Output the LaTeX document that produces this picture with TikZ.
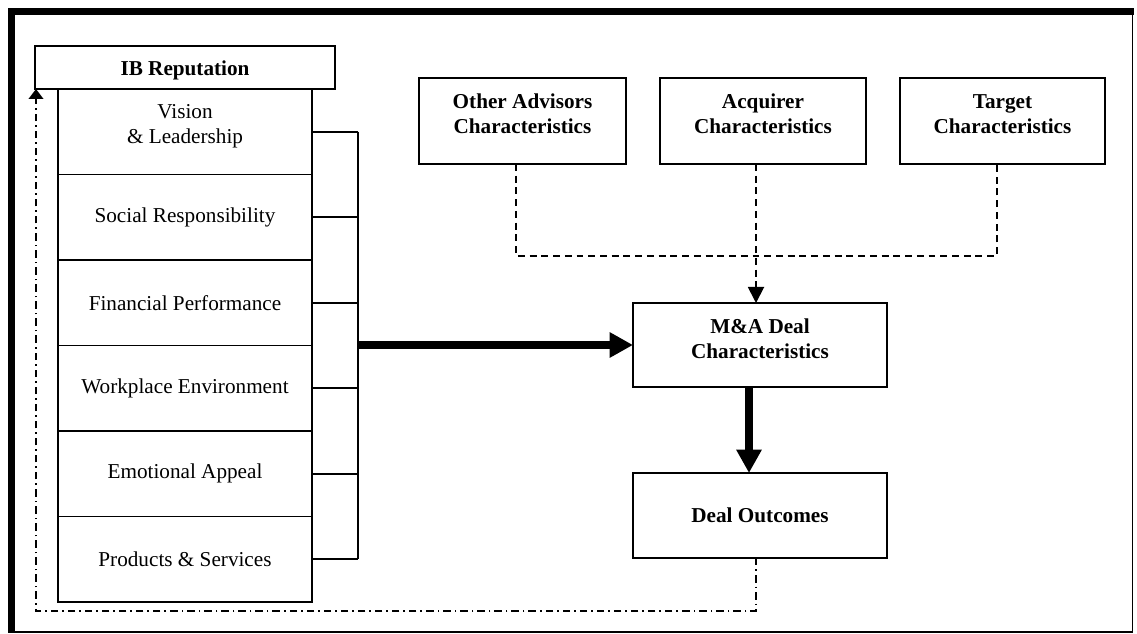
\documentclass[tikz,border=0pt]{standalone}
\usepackage{fontspec}
\setmainfont{Liberation Serif}
\usetikzlibrary{arrows.meta}

% move a (possibly multi-line) label up or down without changing its box
\newcommand\liftlabel[2]{\raisebox{#1}[\height][\depth]{\begin{tabular}{@{}c@{}}#2\end{tabular}}}

\tikzset{
  % boxes are given by centre, width and height in pixel units
  box/.style 2 args={draw, line width=1.4pt, rectangle, inner sep=0pt, outer sep=0pt,
    align=center, minimum width=#1*0.75pt, minimum height=#2*0.75pt,
    font=\fontsize{15.9}{18.75}\selectfont},
  boldbox/.style 2 args={box={#1}{#2}, font=\fontsize{15.9}{18.75}\selectfont\bfseries},
  thin/.style={line width=1.3pt},
  bigarrow/.style={line width=6.2pt, -{Triangle[length=17.5pt,width=18pt]}},
  dashline/.style={line width=1.4pt, dash pattern=on 5.2pt off 3.6pt},
  dashdot/.style={line width=1.4pt, dash pattern=on 5.6pt off 3pt on 1.2pt off 3pt}
}

\begin{document}
\begin{tikzpicture}[x=0.75pt, y=-0.75pt]
  \useasboundingbox (0,0) rectangle (1137,634);
  \fill[white] (0,0) rectangle (1137,634);

  % page frame: heavy top and left rules, light right and bottom rules
  \fill[black] (8,8) rectangle (1134,15);
  \fill[black] (8,8) rectangle (15,633);
  \fill[black] (1131.5,8) rectangle (1133,633);
  \fill[black] (8,630.5) rectangle (1133,633);

  % reputation header and its six dimensions
  \node[boldbox={300}{43}] (ib) at (185,67.5) {\liftlabel{-2.2pt}{IB Reputation}};
  \node[box={254}{85.5}] (s1) at (185,131.75) {\liftlabel{4pt}{Vision\\\& Leadership}};
  \node[box={254}{85.5}] (s2) at (185,217.25) {Social Responsibility};
  \node[box={254}{85.5}] (s3) at (185,302.75) {Financial Performance};
  \node[box={254}{85.5}] (s4) at (185,388.25) {Workplace Environment};
  \node[box={254}{85.5}] (s5) at (185,473.75) {Emotional Appeal};
  \node[box={254}{85.5}] (s6) at (185,559.25) {Products \& Services};

  % characteristics boxes
  \node[boldbox={207}{86}] (oth) at (522.5,121) {\liftlabel{4pt}{Other Advisors\\Characteristics}};
  \node[boldbox={206}{86}] (acq) at (763,121) {\liftlabel{4pt}{Acquirer\\Characteristics}};
  \node[boldbox={205}{86}] (tgt) at (1002.5,121) {\liftlabel{4pt}{Target\\Characteristics}};

  \node[boldbox={254}{84}] (mna) at (760,345) {\liftlabel{3pt}{M\&A Deal\\Characteristics}};
  \node[boldbox={254}{85}] (out) at (760,515.5) {Deal Outcomes};

  % helper coordinates for the routed connectors
  \coordinate (bus) at (358,0);
  \coordinate (join) at (0,256);
  \coordinate (xoth) at (516,0);
  \coordinate (xacq) at (756,0);
  \coordinate (xtgt) at (997,0);
  \coordinate (xdown) at (749,0);
  \coordinate (xfb) at (36,0);
  \coordinate (yfb) at (0,611);

  % bracket collecting the six dimensions
  \foreach \s in {s1,s2,s3,s4,s5,s6}
    \draw[thin] (\s.east) -- (\s.east -| bus);
  \draw[thin] (s1.east -| bus) -- (s6.east -| bus);

  % main flow
  \draw[bigarrow] (bus |- mna.west) -- (mna.west);
  \draw[bigarrow] (xdown |- mna.south) -- (xdown |- out.north);

  % moderating characteristics
  \draw[dashline] (xoth |- oth.south) -- (xoth |- join) -- (xtgt |- join) -- (xtgt |- tgt.south);
  \draw[dashline, -{Triangle[length=12pt,width=12pt]}] (xacq |- acq.south) -- (xacq |- mna.north);

  % feedback from outcomes to reputation
  \draw[dashdot, -{Triangle[length=7.5pt,width=11pt]}]
    (xacq |- out.south) -- (xacq |- yfb) -- (xfb |- yfb) -- (xfb |- ib.south);
\end{tikzpicture}
\end{document}
